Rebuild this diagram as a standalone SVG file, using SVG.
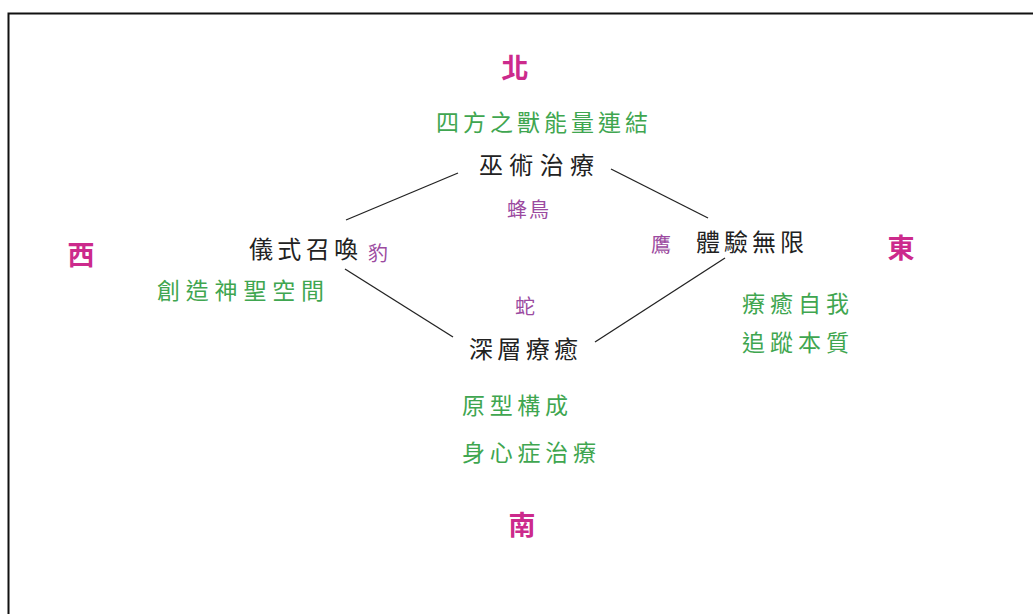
<svg xmlns="http://www.w3.org/2000/svg" width="1033" height="614" viewBox="0 0 1033 614">
<style>
text{font-family:"Noto Sans CJK TC","Noto Sans CJK SC",sans-serif}
.dir{fill:#cc2a8c;font-size:27px;font-weight:bold;text-anchor:middle}
.node{fill:#222;font-size:24px}
.grn{fill:#3fa650;font-size:23px}
.ani{fill:#9b4aa0;font-size:20px}
.conn line{stroke:#222;stroke-width:1.3}
</style>
<rect width="1033" height="614" fill="#fff"/>
<path d="M8.5 614V13.5H1033" fill="none" stroke="#111" stroke-width="2"/>
<g id="connectors" class="conn">
<line x1="346" y1="220" x2="458" y2="173"/>
<line x1="611" y1="169" x2="708" y2="218"/>
<line x1="345" y1="269" x2="453" y2="337"/>
<line x1="595" y1="342" x2="725" y2="258"/>
</g>
<g id="north"><text class="dir" x="515" y="78">北</text>
<text class="grn" x="436" y="131" textLength="212" lengthAdjust="spacing">四方之獸能量連結</text></g>
<g id="node-wushu"><text class="node" x="479" y="174" textLength="115" lengthAdjust="spacing">巫術治療</text>
<text class="ani" x="507" y="217" textLength="42" lengthAdjust="spacing">蜂鳥</text></g>
<g id="west"><text class="dir" x="81" y="265">西</text>
<text class="grn" x="157" y="299" textLength="167" lengthAdjust="spacing">創造神聖空間</text></g>
<g id="node-yishi"><text class="node" x="249" y="258" textLength="109" lengthAdjust="spacing">儀式召喚</text>
<text class="ani" x="368" y="261">豹</text></g>
<g id="node-tiyan"><text class="ani" x="651" y="252">鷹</text>
<text class="node" x="696" y="251" textLength="108" lengthAdjust="spacing">體驗無限</text></g>
<g id="east"><text class="dir" x="901" y="258">東</text>
<text class="grn" x="742" y="312" textLength="107" lengthAdjust="spacing">療癒自我</text>
<text class="grn" x="742" y="351" textLength="107" lengthAdjust="spacing">追蹤本質</text></g>
<g id="node-shenceng"><text class="ani" x="515" y="314">蛇</text>
<text class="node" x="469" y="358" textLength="109" lengthAdjust="spacing">深層療癒</text></g>
<g id="south"><text class="grn" x="462" y="414" textLength="106" lengthAdjust="spacing">原型構成</text>
<text class="grn" x="462" y="461" textLength="134" lengthAdjust="spacing">身心症治療</text>
<text class="dir" x="522" y="535">南</text></g>
</svg>
